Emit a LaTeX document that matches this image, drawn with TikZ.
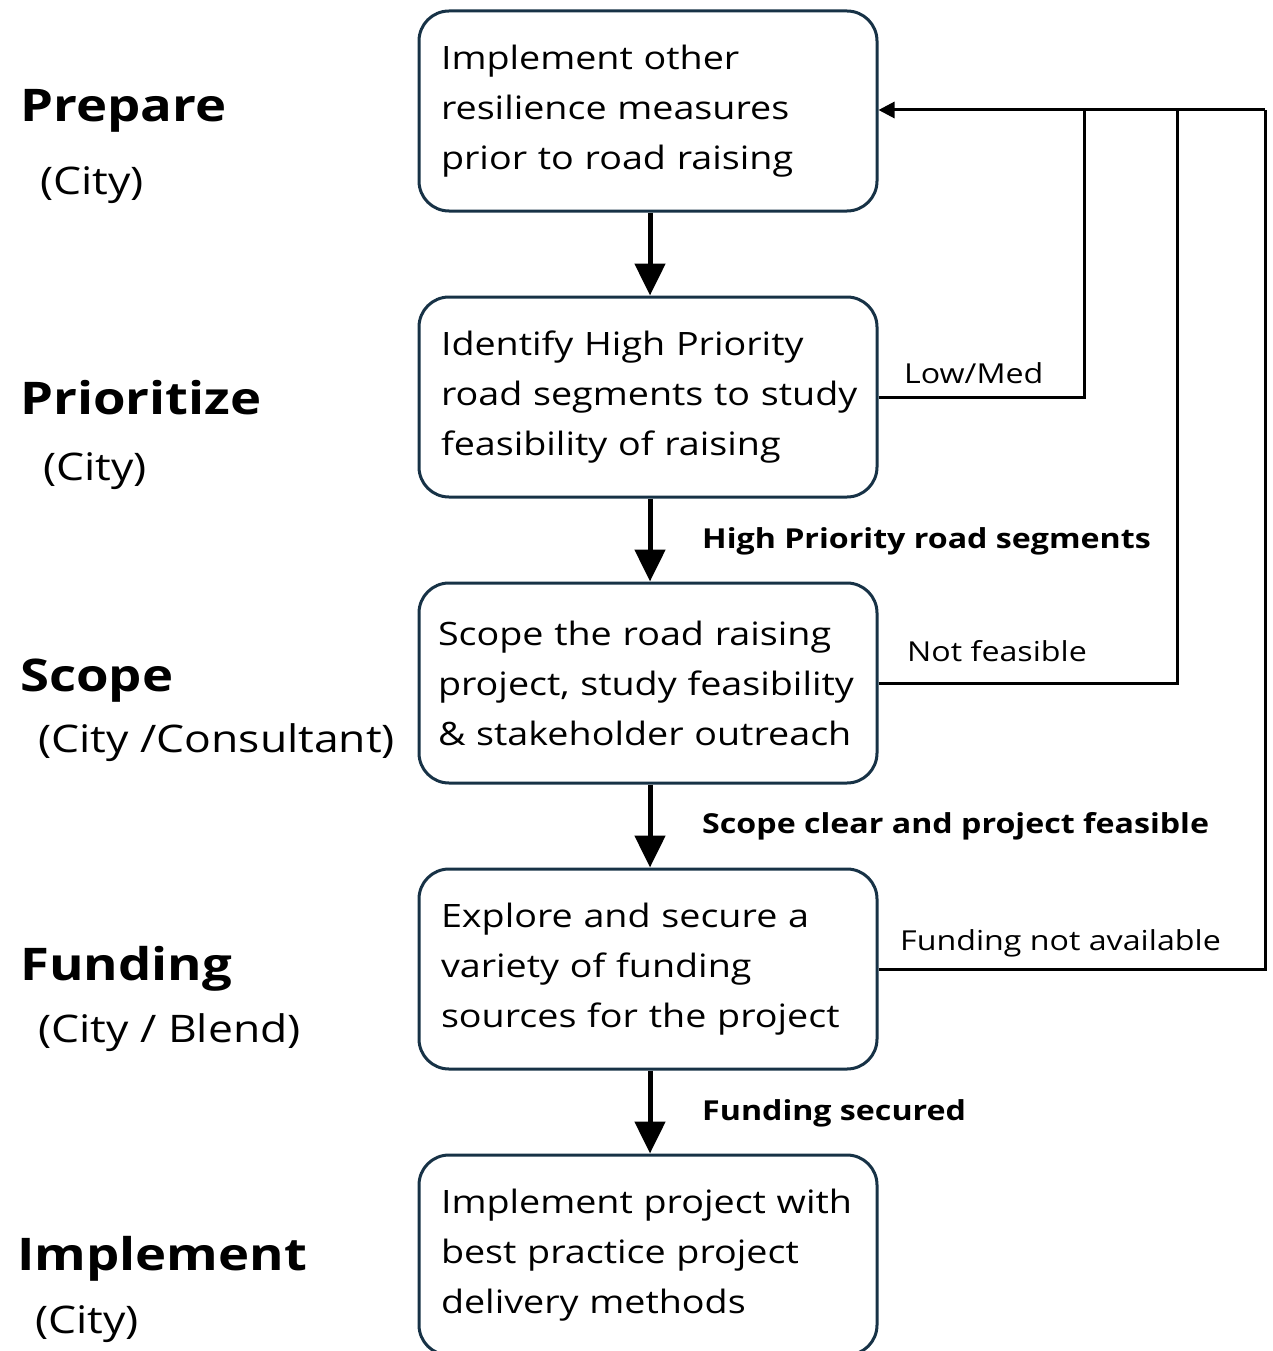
\documentclass[tikz,border=0pt]{standalone}
\usepackage{fontspec}
\setmainfont{Open Sans}[FakeStretch=1.17]
\usetikzlibrary{arrows.meta}
\definecolor{boxc}{RGB}{23,50,70}
\newcommand{\bline}[1]{\mbox{#1}}
\tikzset{
  box/.style={draw=boxc, line width=3pt, rounded corners=30pt, minimum width=458pt, minimum height=200pt,
    text width=414pt, inner xsep=22pt, inner ysep=0pt, align=left, font=\fontsize{32.2}{50}\selectfont},
  down/.style={line width=5pt, -{Triangle[length=32pt,width=30pt]}},
  back/.style={line width=3pt},
  backarrow/.style={line width=3pt, -{Triangle[length=16pt,width=16pt]}},
  phase/.style={anchor=west, inner sep=0pt, font=\fontsize{45}{50}\selectfont\bfseries},
  who/.style={anchor=west, inner sep=0pt, font=\fontsize{38}{40}\selectfont},
  elab/.style={anchor=west, inner sep=0pt, font=\fontsize{27.5}{30}\selectfont},
  blab/.style={anchor=west, inner sep=0pt, font=\fontsize{27.5}{30}\selectfont\bfseries}
}
\begin{document}
\begin{tikzpicture}[x=1pt,y=-1pt]
\useasboundingbox (0,0) rectangle (1273,1351);
\clip (0,0) rectangle (1273,1351);
\node[box] (b1) at (648,111) {\bline{Implement other}\\\bline{resilience measures}\\\bline{prior to road raising}};
\node[box] (b2) at (648,397) {\bline{Identify High Priority}\\\bline{road segments to study}\\\bline{feasibility of raising}};
\node[box, text width=420pt, inner xsep=19pt] (b3) at (648,683) {\bline{Scope the road raising}\\\bline{project, study feasibility}\\\bline{\& stakeholder outreach}};
\node[box] (b4) at (648,969) {\bline{Explore and secure a}\\\bline{variety of funding}\\\bline{sources for the project}};
\node[box] (b5) at (648,1255) {\bline{Implement project with}\\\bline{best practice project}\\\bline{delivery methods}};

\draw[down] (b1.south -| 650,0) -- (b2.north -| 650,0);
\draw[down] (b2.south -| 650,0) -- (b3.north -| 650,0);
\draw[down] (b3.south -| 650,0) -- (b4.north -| 650,0);
\draw[down] (b4.south -| 650,0) -- (b5.north -| 650,0);

\coordinate (c1) at (1084,110);
\coordinate (c2) at (1177,110);
\coordinate (c3) at (1265,110);
\draw[back] (b2.east) -- (c1 |- b2.east) -- (c1);
\draw[back] (b3.east) -- (c2 |- b3.east) -- (c2);
\draw[back] (b4.east) -- (c3 |- b4.east) -- (c3);
\draw[backarrow] (c3) -- (b1.east |- c3);

\node[elab] (l1) at (904,373) {Low/Med};
\node[elab] (l2) at (907,651) {Not feasible};
\node[elab] (l3) at (900,943) {Funding not available};
\node[blab] (m1) at (702,541) {High Priority road segments};
\node[blab] (m2) at (702,826) {Scope clear and project feasible};
\node[blab] (m3) at (702,1113) {Funding secured};

\node[phase] (p1) at (20,111) {Prepare};
\node[who] (w1) at (40,185) {(City)};
\node[phase] (p2) at (20,398) {Prioritize};
\node[who] (w2) at (43,471) {(City)};
\node[phase] (p3) at (20,681) {Scope};
\node[who] (w3) at (38,743) {(City /Consultant)};
\node[phase] (p4) at (20,969) {Funding};
\node[who] (w4) at (38,1033) {(City / Blend)};
\node[phase] (p5) at (17,1259) {Implement};
\node[who] (w5) at (35,1324) {(City)};
\end{tikzpicture}
\end{document}
